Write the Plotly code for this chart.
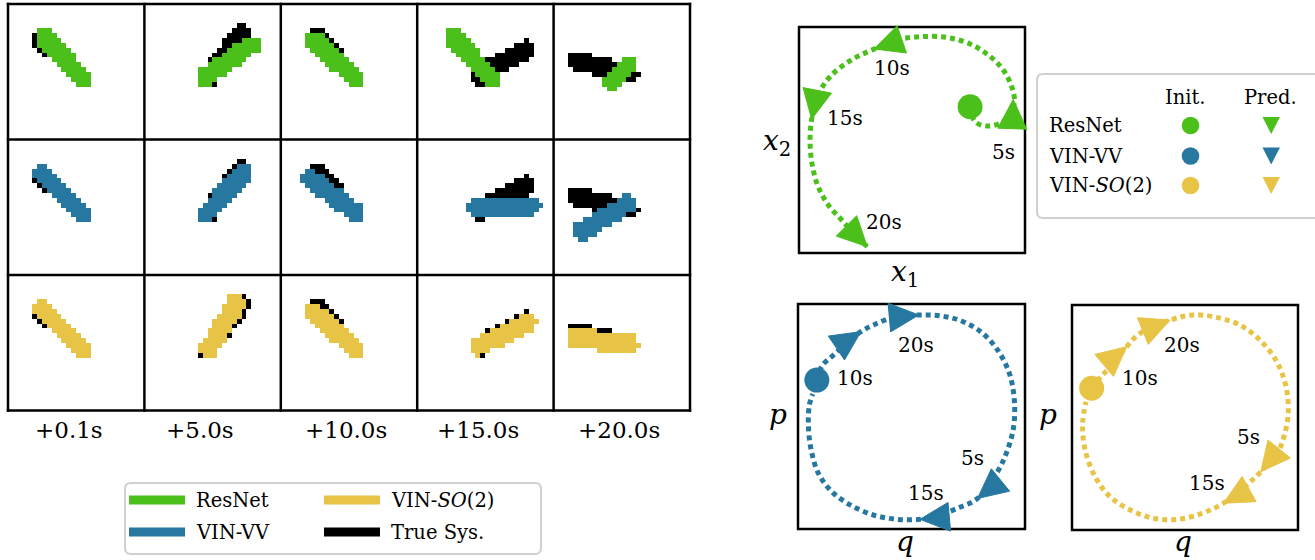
import numpy as np
import plotly.graph_objects as go

W, H = 1315, 560
FONT = "DejaVu Serif"

GREEN, BLUE, YELLOW, BLACK = "#4CC01A", "#2778A0", "#E8C446", "#000000"

model_names = ["ResNet", "VIN-VV", "VIN-<i>SO</i>(2)"]
model_colors = [GREEN, BLUE, YELLOW]

# ---------------------------------------------------------------------------
# Pendulum snapshots: rod angle in degrees (counter-clockwise from +x)
# ---------------------------------------------------------------------------
snapshot_labels = ["+0.1s", "+5.0s", "+10.0s", "+15.0s", "+20.0s"]
true_angle = [136, 53, 133, 28, 166]
resnet_angle = [132, 35, 138, 133, 225]
vinvv_angle = [135, 48, 143, 2, 211]
vinso2_angle = [135, 59, 139, 26, 174]
# relative rod length rendered by each model
resnet_len = [1.0, 1.0, 1.0, 1.0, 0.25]
vinvv_len = [1.0, 1.0, 1.0, 1.0, 1.0]
vinso2_len = [1.0, 1.0, 1.0, 1.0, 1.0]

# ---------------------------------------------------------------------------
# Phase-space trajectories (normalised 0-100 box coordinates)
# ---------------------------------------------------------------------------
resnet_x = [75.7, 77.9, 83.0, 88.9, 93.4, 95.3, 94.1, 90.4, 83.8, 75.7, 65.3, 53.5,
            43.2, 32.9, 22.6, 13.7, 8.5, 5.6, 4.9, 6.0, 8.5, 13.0, 18.9, 25.5, 30.2]
resnet_y = [64.7, 58.1, 56.2, 57.4, 61.1, 67.7, 73.6, 81.0, 87.6, 92.5, 95.4, 95.7,
            94.2, 90.1, 85.1, 78.0, 69.9, 59.2, 48.5, 38.2, 29.3, 21.2, 14.6, 7.2, 2.8]
resnet_mark_t = ["5s", "10s", "15s", "20s"]
resnet_mark_x = [94.8, 33.2, 5.6, 30.2]
resnet_mark_y = [68.0, 90.3, 59.2, 2.8]
resnet_heading = [88, 199, 259, -45]

vinvv_x = [8.3, 10.5, 15.6, 23.0, 27.7, 33.3, 42.2, 53.2, 62.8, 71.7, 80.5, 87.9, 93.1,
           95.3, 95.0, 92.3, 87.9, 79.1, 70.2, 61.4, 53.7, 43.7, 33.3, 23.0, 14.9, 9.0,
           5.8, 4.6, 5.0, 6.5]
vinvv_y = [66.2, 72.4, 77.3, 84.0, 87.7, 90.7, 94.1, 95.1, 94.7, 92.6, 87.7, 79.6, 69.2,
           57.3, 45.5, 35.1, 25.5, 13.6, 9.2, 5.9, 4.3, 4.3, 6.2, 10.7, 16.6, 24.7,
           35.1, 45.5, 55.1, 60.0]
vinvv_mark_t = ["5s", "10s", "15s", "20s"]
vinvv_mark_x = [79.1, 27.7, 53.7, 53.2]
vinvv_mark_y = [13.6, 87.7, 4.3, 95.1]
vinvv_heading = [219, 34, 185, 5]

vinso2_x = [8.7, 13.1, 17.6, 24.2, 30.1, 43.4, 53.7, 64.0, 74.3, 83.2, 90.6, 94.7, 95.7,
            93.8, 90.8, 83.5, 77.3, 67.0, 56.6, 46.3, 36.0, 25.7, 16.8, 10.2, 5.8, 4.7, 6.2]
vinso2_y = [63.0, 68.4, 73.3, 81.5, 87.4, 93.3, 95.6, 94.5, 91.1, 84.4, 74.8, 63.7, 51.9,
            41.5, 34.1, 25.9, 20.0, 11.9, 7.1, 4.7, 5.2, 8.9, 14.8, 23.7, 35.6, 47.4, 57.0]
vinso2_mark_t = ["5s", "10s", "15s", "20s"]
vinso2_mark_x = [83.5, 24.2, 67.0, 43.4]
vinso2_mark_y = [25.9, 81.5, 11.9, 93.3]
vinso2_heading = [231, 40, 209, 22]

# ---------------------------------------------------------------------------
# helpers
# ---------------------------------------------------------------------------
N = 28                      # image resolution
ROD_LONG, ROD_TAIL, ROD_HALF = 9.6, 1.6, 2.0


def rod_mask(angle_deg, scale=1.0):
    th = np.deg2rad(angle_deg)
    ux, uy = np.cos(th), -np.sin(th)
    cx = cy = N / 2
    x0, y0 = cx - ROD_TAIL * ux, cy - ROD_TAIL * uy
    x1, y1 = cx + ROD_LONG * scale * ux, cy + ROD_LONG * scale * uy
    X, Y = np.meshgrid(np.arange(N) + 0.5, np.arange(N) + 0.5)
    dx, dy = x1 - x0, y1 - y0
    t = np.clip(((X - x0) * dx + (Y - y0) * dy) / (dx * dx + dy * dy), 0, 1)
    d = np.hypot(X - (x0 + t * dx), Y - (y0 + t * dy))
    return d <= ROD_HALF


def ax_name(i, kind):
    return kind if i == 1 else f"{kind}{i}"


def dom_x(a, b):
    return [a / W, b / W]


def dom_y(a, b):
    return [1 - b / H, 1 - a / H]


fig = go.Figure()
layout = dict(width=W, height=H, margin=dict(l=0, r=0, t=0, b=0),
              paper_bgcolor="white", plot_bgcolor="rgba(0,0,0,0)",
              font=dict(family=FONT, color=BLACK),
              showlegend=False, shapes=[], annotations=[])
hidden = dict(visible=False, fixedrange=True)

# ---------------------------------------------------------------------------
# image grid
# ---------------------------------------------------------------------------
col_edges = np.linspace(8, 690, 6)
row_edges = np.linspace(4, 410.5, 4)
pred_angles = [resnet_angle, vinvv_angle, vinso2_angle]
pred_lens = [resnet_len, vinvv_len, vinso2_len]
centers = np.arange(N) + 0.5

for r in range(3):
    for c in range(5):
        i = r * 5 + c + 1
        img = np.full((N, N), np.nan)
        img[rod_mask(true_angle[c])] = 1
        img[rod_mask(pred_angles[r][c], pred_lens[r][c])] = 2
        col = model_colors[r]
        fig.add_trace(go.Heatmap(
            z=img, x=centers, y=centers, zmin=1, zmax=2,
            colorscale=[[0, BLACK], [0.5, BLACK], [0.5, col], [1, col]],
            showscale=False, hoverinfo="skip",
            xaxis=ax_name(i, "x"), yaxis=ax_name(i, "y")))
        layout[ax_name(i, "xaxis")] = dict(domain=dom_x(col_edges[c], col_edges[c + 1]),
                                           range=[0, N], anchor=ax_name(i, "y"), **hidden)
        layout[ax_name(i, "yaxis")] = dict(domain=dom_y(row_edges[r], row_edges[r + 1]),
                                           range=[N, 0], anchor=ax_name(i, "x"), **hidden)

# overlay axis in pixel units for frame lines, legends and labels
OV = 19
layout[f"xaxis{OV}"] = dict(domain=[0, 1], range=[0, W], anchor=f"y{OV}", **hidden)
layout[f"yaxis{OV}"] = dict(domain=[0, 1], range=[H, 0], anchor=f"x{OV}", **hidden)
ovx, ovy = f"x{OV}", f"y{OV}"


def ov_line(x0, y0, x1, y1, color=BLACK, width=2.5):
    layout["shapes"].append(dict(type="line", xref=ovx, yref=ovy, x0=x0, y0=y0, x1=x1, y1=y1,
                                 line=dict(color=color, width=width), layer="above"))


def ov_text(x, y, text, size, xanchor="center", yanchor="middle"):
    layout["annotations"].append(dict(xref=ovx, yref=ovy, x=x, y=y, text=text, showarrow=False,
                                      xanchor=xanchor, yanchor=yanchor,
                                      font=dict(family=FONT, size=size, color=BLACK)))


def round_box(x0, y0, x1, y1, rad=6, color="#D0D0D0"):
    path = (f"M{x0 + rad},{y0} L{x1 - rad},{y0} Q{x1},{y0} {x1},{y0 + rad} "
            f"L{x1},{y1 - rad} Q{x1},{y1} {x1 - rad},{y1} L{x0 + rad},{y1} "
            f"Q{x0},{y1} {x0},{y1 - rad} L{x0},{y0 + rad} Q{x0},{y0} {x0 + rad},{y0} Z")
    layout["shapes"].append(dict(type="path", xref=ovx, yref=ovy, path=path,
                                 line=dict(color=color, width=2), layer="above"))


for x in col_edges:
    ov_line(x, row_edges[0] - 1.2, x, row_edges[-1] + 1.2)
for y in row_edges:
    ov_line(col_edges[0] - 1.2, y, col_edges[-1] + 1.2, y)

label_cx = [69, 200, 346, 478, 619]
for cx, lab in zip(label_cx, snapshot_labels):
    ov_text(cx, 430, lab, 23)

# legend under the grid
round_box(125, 483, 541, 554)
leg_items = [(129, 185, 500, GREEN, "ResNet"), (129, 185, 532, BLUE, "VIN-VV"),
             (324, 380, 500, YELLOW, "VIN-<i>SO</i>(2)"), (324, 380, 532, BLACK, "True Sys.")]
for x0, x1, y, col, name in leg_items:
    ov_line(x0, y, x1, y, color=col, width=9)
    ov_text(x1 + 9, y, name, 19.5, xanchor="left")

# ---------------------------------------------------------------------------
# phase-space panels
# ---------------------------------------------------------------------------
PAD = 7
panels = [
    (16, (799, 27, 1025, 253), GREEN, resnet_x, resnet_y, resnet_mark_t, resnet_mark_x,
     resnet_mark_y, resnet_heading,
     [(90.7, 44.8), (41.0, 81.7), (20.4, 59.6), (37.6, 13.9)]),
    (17, (798, 304, 1025, 529), BLUE, vinvv_x, vinvv_y, vinvv_mark_t, vinvv_mark_x,
     vinvv_mark_y, vinvv_heading,
     [(76.9, 31.4), (25.2, 67.0), (56.2, 15.9), (51.8, 81.8)]),
    (18, (1072, 305, 1298, 530), YELLOW, vinso2_x, vinso2_y, vinso2_mark_t, vinso2_mark_x,
     vinso2_mark_y, vinso2_heading,
     [(78.0, 41.5), (30.1, 67.4), (59.6, 20.8), (48.5, 82.2)]),
]

HEAD_LEN, HEAD_HALF = 13.0, 6.4

for ai, (bx0, by0, bx1, by1), col, tx, ty, mt, mx, my, hd, lab_pos in panels:
    sx = (bx1 - bx0) / 100
    sy = (by1 - by0) / 100
    layout[f"xaxis{ai}"] = dict(domain=dom_x(bx0 - PAD * sx, bx1 + PAD * sx),
                                range=[-PAD, 100 + PAD], anchor=f"y{ai}", **hidden)
    layout[f"yaxis{ai}"] = dict(domain=dom_y(by0 - PAD * sy, by1 + PAD * sy),
                                range=[-PAD, 100 + PAD], anchor=f"x{ai}", **hidden)
    layout["shapes"].append(dict(type="rect", xref=f"x{ai}", yref=f"y{ai}", x0=0, x1=100,
                                 y0=0, y1=100, line=dict(color=BLACK, width=2.5),
                                 layer="below"))
    # dotted trajectory
    fig.add_trace(go.Scatter(x=tx, y=ty, mode="lines", xaxis=f"x{ai}", yaxis=f"y{ai}",
                             line=dict(color=col, width=5, dash="5px,4px", shape="spline",
                                       smoothing=1.0),
                             hoverinfo="skip"))
    # initial state
    fig.add_trace(go.Scatter(x=[tx[0]], y=[ty[0]], mode="markers", xaxis=f"x{ai}",
                             yaxis=f"y{ai}", marker=dict(color=col, size=25),
                             hoverinfo="skip"))
    # predicted states: arrow heads pointing along the motion
    hx, hy = [], []
    for x, y, h in zip(mx, my, hd):
        a = np.deg2rad(h)
        ux, uy = np.cos(a), np.sin(a)
        cx, cy = x - HEAD_LEN * ux, y - HEAD_LEN * uy
        hx += [x, cx - HEAD_HALF * uy, cx + HEAD_HALF * uy, x, None]
        hy += [y, cy + HEAD_HALF * ux, cy - HEAD_HALF * ux, y, None]
    fig.add_trace(go.Scatter(x=hx, y=hy, mode="lines", fill="toself", fillcolor=col,
                             line=dict(color=col, width=1), xaxis=f"x{ai}", yaxis=f"y{ai}",
                             hoverinfo="skip"))
    for t, (lx, ly) in zip(mt, lab_pos):
        layout["annotations"].append(dict(xref=f"x{ai}", yref=f"y{ai}", x=lx, y=ly, text=t,
                                          showarrow=False,
                                          font=dict(family=FONT, size=20, color=BLACK)))

# axis labels
ov_text(777, 142, "<i>x</i><sub>2</sub>", 28)
ov_text(905, 273, "<i>x</i><sub>1</sub>", 28)
ov_text(778, 414, "<i>p</i>", 28)
ov_text(905, 541, "<i>q</i>", 28)
ov_text(1048, 414, "<i>p</i>", 28)
ov_text(1183, 541, "<i>q</i>", 28)

# marker legend
round_box(1037, 74, 1330, 218)
ov_text(1185, 97, "Init.", 19.5)
ov_text(1270, 97, "Pred.", 19.5)
for y, col, name in zip([125.5, 156, 185.5], model_colors, model_names):
    ov_text(1047, y, name, 19.5, xanchor="left")
    layout["shapes"].append(dict(type="circle", xref=ovx, yref=ovy, x0=1181.7, x1=1199.3,
                                 y0=y - 8.8, y1=y + 8.8, fillcolor=col,
                                 line=dict(width=0), layer="above"))
    layout["shapes"].append(dict(type="path", xref=ovx, yref=ovy,
                                 path=f"M1262.5,{y - 8.5} L1280,{y - 8.5} L1271.2,{y + 8.5} Z",
                                 fillcolor=col, line=dict(width=0), layer="above"))

fig.update_layout(**layout)
fig.write_html("out.html")
